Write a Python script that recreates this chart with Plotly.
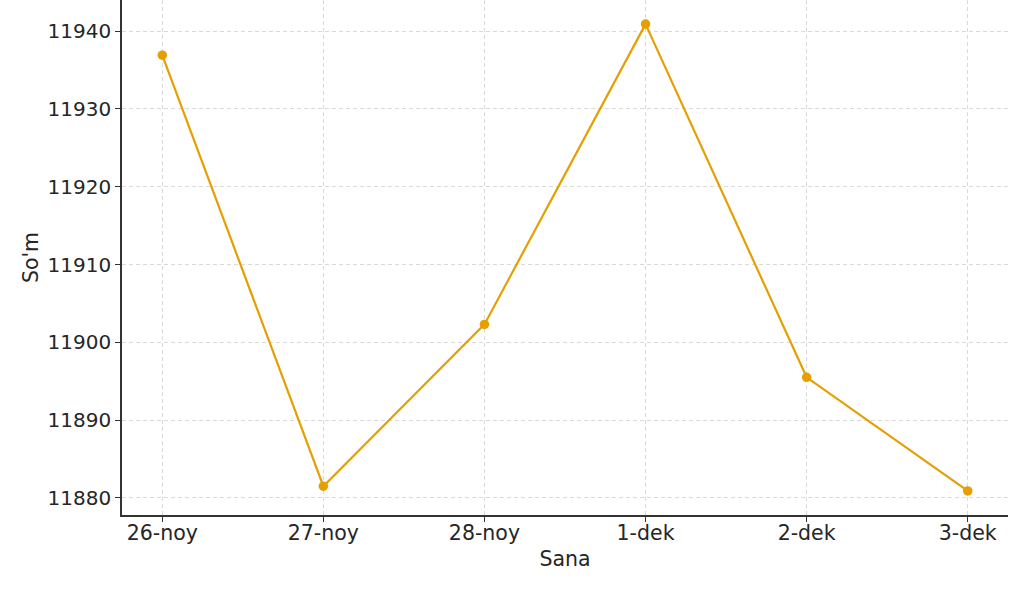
import plotly.graph_objects as go

dates = ["26-noy", "27-noy", "28-noy", "1-dek", "2-dek", "3-dek"]
rates = [11936.9, 11881.5, 11902.3, 11940.9, 11895.5, 11880.9]
y_ticks = [11880, 11890, 11900, 11910, 11920, 11930, 11940]

fig = go.Figure()
fig.add_trace(go.Scatter(
    x=list(range(len(dates))), y=rates, mode="lines+markers",
    line=dict(color="#E69F00", width=2.2),
    marker=dict(color="#E69F00", size=9.5),
))

tfont = dict(family="DejaVu Sans", size=20, color="#262626")
xfont = dict(family="DejaVu Sans", size=20.5, color="#262626")
fig.update_layout(
    width=1024, height=590,
    margin=dict(l=122, r=16, t=0, b=75),
    plot_bgcolor="white", paper_bgcolor="white",
    showlegend=False,
    font=tfont,
)
fig.update_xaxes(
    range=[-0.25, 5.25], automargin=False,
    tickmode="array", tickvals=list(range(len(dates))), ticktext=dates,
    showline=True, linecolor="#333333", linewidth=1.6,
    ticks="outside", ticklen=5, tickcolor="#333333", tickwidth=1.2,
    ticklabelstandoff=-6,
    showgrid=True, gridcolor="#d9d9d9", griddash="4px,3px", gridwidth=1,
    zeroline=False,
    title=dict(text="Sana", font=xfont, standoff=7),
    tickfont=xfont,
)
fig.update_yaxes(
    range=[11877.8, 11944.0], automargin=False,
    tickmode="array", tickvals=y_ticks, tickformat="d",
    showline=True, linecolor="#333333", linewidth=1.6,
    ticks="outside", ticklen=5, tickcolor="#333333", tickwidth=1.2,
    showgrid=True, gridcolor="#d9d9d9", griddash="4px,3px", gridwidth=1,
    zeroline=False,
    title=dict(text="So'm", font=xfont, standoff=3),
    tickfont=tfont,
)

fig.write_html("out.html", config={"displayModeBar": False},
               post_script="document.body.style.margin='0';")
